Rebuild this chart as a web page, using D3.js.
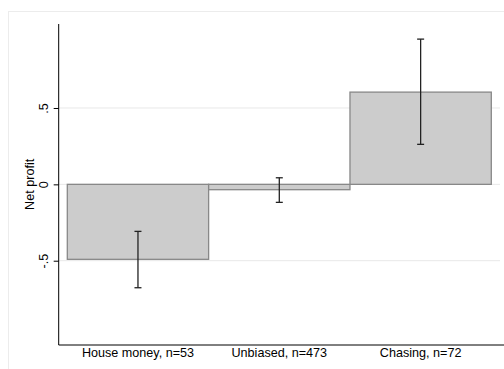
<!DOCTYPE html>
<html>
<head>
<meta charset="utf-8">
<script src="https://cdn.jsdelivr.net/npm/d3@7"></script>
<style>
  html, body { margin: 0; padding: 0; background: #fff; }
  svg { display: block; font-family: Arial, "Liberation Sans", sans-serif; }
</style>
</head>
<body>
<svg id="chart" width="504" height="369"></svg>
<script>
// Mean net profit by betting group, with confidence intervals
const categories = ["House money, n=53", "Unbiased, n=473", "Chasing, n=72"];
const means = [-0.491, -0.035, 0.604];
const ciLow = [-0.677, -0.118, 0.262];
const ciHigh = [-0.308, 0.043, 0.951];
const yTicks = [-0.5, 0, 0.5];
const yTickLabels = ["-.5", "0", ".5"];

const svg = d3.select("#chart");
const W = 504, H = 369;
const plot = { left: 58.7, right: 500, top: 24, bottom: 345 };
const fontSize = 12.6;

// Outer graph region frame
svg.append("rect")
  .attr("x", 8.5).attr("y", 11.5)
  .attr("width", 540).attr("height", 400)
  .attr("fill", "none").attr("stroke", "#ececec").attr("stroke-width", 1);

const y = d3.scaleLinear().domain([-1.052, 1.05]).range([plot.bottom, plot.top]);
const x = d3.scaleBand().domain(categories)
  .range([plot.left + 8.6, plot.right - 8.7]).padding(0);

// Horizontal gridlines
svg.append("g").selectAll("line").data(yTicks).join("line")
  .attr("x1", plot.left).attr("x2", plot.right)
  .attr("y1", d => y(d)).attr("y2", d => y(d))
  .attr("stroke", "#e8e8e8").attr("stroke-width", 1);

// Bars drawn from zero
svg.append("g").selectAll("rect").data(means).join("rect")
  .attr("x", (d, i) => x(categories[i]))
  .attr("width", x.bandwidth())
  .attr("y", d => y(Math.max(0, d)))
  .attr("height", d => Math.abs(y(d) - y(0)))
  .attr("fill", "#cccccc")
  .attr("stroke", "#888888")
  .attr("stroke-width", 1.3);

// Confidence interval whiskers
const eb = svg.append("g").attr("stroke", "#222").attr("stroke-width", 1.3);
categories.forEach((c, i) => {
  const cx = x(c) + x.bandwidth() / 2;
  eb.append("line").attr("x1", cx).attr("x2", cx)
    .attr("y1", y(ciLow[i])).attr("y2", y(ciHigh[i]));
  [ciLow[i], ciHigh[i]].forEach(v => {
    eb.append("line").attr("x1", cx - 3.5).attr("x2", cx + 3.5)
      .attr("y1", y(v)).attr("y2", y(v));
  });
});

// Y axis
const yAxis = d3.axisLeft(y).tickValues(yTicks)
  .tickFormat((d, i) => yTickLabels[i]).tickSize(5).tickSizeOuter(0);
const gy = svg.append("g").attr("transform", `translate(${plot.left},0)`).call(yAxis);
gy.select(".domain").attr("stroke", "#000").attr("d", `M0,${plot.top}V${plot.bottom}`);
gy.selectAll(".tick line").attr("stroke", "#000");
gy.selectAll(".tick text")
  .attr("font-size", fontSize).attr("fill", "#000")
  .attr("text-anchor", "middle")
  .attr("x", 0).attr("dy", 0)
  .attr("transform", "translate(-10.4,0) rotate(-90)");

// X axis
const xAxis = d3.axisBottom(x).tickSize(0).tickSizeOuter(0);
const gx = svg.append("g").attr("transform", `translate(0,${plot.bottom})`).call(xAxis);
gx.select(".domain").attr("stroke", "#000").attr("d", `M${plot.left},0H${W}`);
gx.selectAll(".tick text").attr("font-size", fontSize).attr("fill", "#000").attr("dy", "0").attr("y", 12);

// Y axis title
svg.append("text")
  .attr("transform", `translate(33.5,${y(0)}) rotate(-90)`)
  .attr("text-anchor", "middle")
  .attr("font-size", fontSize).attr("fill", "#000")
  .text("Net profit");
</script>
</body>
</html>
